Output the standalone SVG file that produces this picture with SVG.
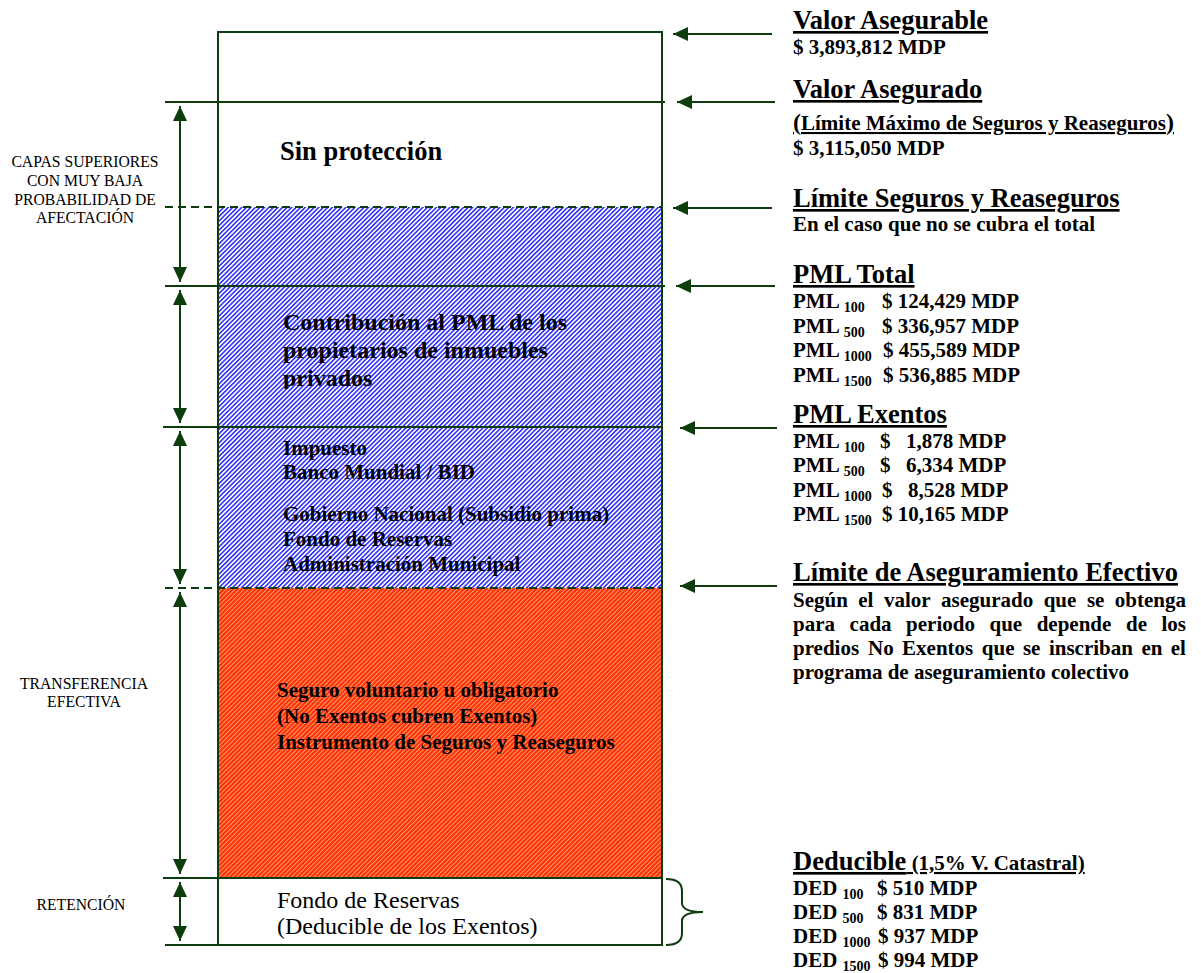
<svg xmlns="http://www.w3.org/2000/svg" width="1201" height="973" viewBox="0 0 1201 973">
<style>
.ln{stroke:#0d3d0d;stroke-width:2;fill:none}
.dash{stroke-dasharray:8 5}
.t{font-family:"Liberation Serif","Times New Roman",serif;fill:#000}
.b{font-weight:bold}
.title{font-size:26.5px;font-weight:bold;text-decoration:underline;text-decoration-thickness:2.5px}
.ul{text-decoration:underline;text-decoration-thickness:2px}
.sub{font-size:21px;font-weight:bold}
.ss{font-size:14px;font-weight:bold}
.lbl{font-size:15.7px;text-anchor:middle}
.arr{stroke:#0d3d0d;stroke-width:2;fill:none;marker-end:url(#ah)}
.darr{stroke:#0d3d0d;stroke-width:2;fill:none;marker-start:url(#ah);marker-end:url(#ah)}
</style>
<defs>
<pattern id="hb" width="3.2" height="3.2" patternUnits="userSpaceOnUse" patternTransform="rotate(45)">
<rect width="3.2" height="3.2" fill="#ffffff"/><rect width="1.6" height="3.2" fill="#3535ff"/>
</pattern>
<pattern id="hr" width="3.2" height="3.2" patternUnits="userSpaceOnUse" patternTransform="rotate(45)">
<rect width="3.2" height="3.2" fill="#ff3300"/><rect width="0.9" height="3.2" fill="#ffa488"/>
</pattern>
<marker id="ah" viewBox="0 0 15 14" refX="15" refY="7" markerWidth="15" markerHeight="14" markerUnits="userSpaceOnUse" orient="auto-start-reverse">
<path d="M0,0 L15,7 L0,14 z" fill="#0d3d0d"/>
</marker>
<clipPath id="clipContrib"><rect x="218" y="286" width="444" height="103"/></clipPath>
</defs>
<rect width="1201" height="973" fill="#ffffff"/>

<g id="layer-sin-proteccion">
<rect x="218" y="32" width="444" height="175" fill="#ffffff"/>
<text class="t b" x="280" y="160" font-size="26.5">Sin protección</text>
</g>

<g id="layer-limite-seguros">
<rect x="218" y="207" width="444" height="79" fill="url(#hb)"/>
</g>

<g id="layer-contribucion">
<rect x="218" y="286" width="444" height="141" fill="url(#hb)"/>
<g clip-path="url(#clipContrib)">
<text class="t b" font-size="24" x="283"><tspan x="283" y="330">Contribución al PML de los</tspan><tspan x="283" y="358">propietarios de inmuebles</tspan><tspan x="283" y="386">privados</tspan></text>
</g>
</g>

<g id="layer-exentos">
<rect x="218" y="427" width="444" height="161" fill="url(#hb)"/>
<text class="t b" font-size="21"><tspan x="283" y="455">Impuesto</tspan><tspan x="283" y="479">Banco Mundial / BID</tspan><tspan x="283" y="521">Gobierno Nacional (Subsidio prima)</tspan><tspan x="283" y="546">Fondo de Reservas</tspan><tspan x="283" y="571">Administración Municipal</tspan></text>
</g>

<g id="layer-transferencia">
<rect x="218" y="588" width="444" height="290" fill="url(#hr)"/>
<text class="t b" font-size="21"><tspan x="277" y="697">Seguro voluntario u obligatorio</tspan><tspan x="277" y="723">(No Exentos cubren Exentos)</tspan><tspan x="277" y="749">Instrumento de Seguros y Reaseguros</tspan></text>
</g>

<g id="layer-retencion">
<rect x="218" y="878" width="444" height="67" fill="#ffffff"/>
<text class="t" font-size="24"><tspan x="277" y="908">Fondo de Reservas</tspan><tspan x="277" y="934">(Deducible de los Exentos)</tspan></text>
</g>

<g id="frame">
<rect x="218" y="32" width="444" height="913" class="ln"/>
<line x1="165" y1="102" x2="665" y2="102" class="ln"/>
<line x1="165" y1="207" x2="662" y2="207" class="ln dash"/>
<line x1="165" y1="286" x2="665" y2="286" class="ln"/>
<line x1="163" y1="427" x2="662" y2="427" class="ln"/>
<line x1="165" y1="588" x2="662" y2="588" class="ln dash"/>
<line x1="163" y1="878" x2="662" y2="878" class="ln"/>
<line x1="165" y1="945" x2="218" y2="945" class="ln"/>
<path d="M666,879 Q682,879 682,891 L682,903 Q682,912 703,912 Q682,912 682,921 L682,933 Q682,945 666,945" class="ln" stroke-width="1.8"/>
</g>

<g id="connectors">
<line x1="772" y1="34" x2="673" y2="34" class="arr"/>
<line x1="775" y1="102" x2="677" y2="102" class="arr"/>
<line x1="772" y1="208" x2="673" y2="208" class="arr"/>
<line x1="775" y1="286" x2="676" y2="286" class="arr"/>
<line x1="777" y1="428" x2="680" y2="428" class="arr"/>
<line x1="777" y1="586" x2="680" y2="586" class="arr"/>
<line x1="180" y1="106" x2="180" y2="282" class="darr"/>
<line x1="180" y1="290" x2="180" y2="423" class="darr"/>
<line x1="180" y1="431" x2="180" y2="584" class="darr"/>
<line x1="180" y1="592" x2="180" y2="874" class="darr"/>
<line x1="180" y1="882" x2="180" y2="941" class="darr"/>
</g>

<g id="side-labels">
<text class="t lbl"><tspan x="85" y="167">CAPAS SUPERIORES</tspan><tspan x="85" y="186">CON MUY BAJA</tspan><tspan x="85" y="205">PROBABILIDAD DE</tspan><tspan x="85" y="223">AFECTACIÓN</tspan></text>
<text class="t lbl"><tspan x="84" y="689">TRANSFERENCIA</tspan><tspan x="84" y="707">EFECTIVA</tspan></text>
<text class="t lbl" x="81" y="910">RETENCIÓN</text>
</g>

<g id="info-valor-asegurable">
<text class="t title" x="793" y="29">Valor Asegurable</text>
<text class="t sub" x="793" y="54">$ 3,893,812 MDP</text>
</g>

<g id="info-valor-asegurado">
<text class="t title" x="793" y="98">Valor Asegurado</text>
<text class="t sub ul" x="793" y="130"><tspan font-size="24">(</tspan>Límite Máximo de Seguros y Reaseguros<tspan font-size="24">)</tspan></text>
<text class="t sub" x="793" y="155">$ 3,115,050 MDP</text>
</g>

<g id="info-limite-seguros">
<text class="t title" x="793" y="207">Límite Seguros y Reaseguros</text>
<text class="t sub" x="793" y="231">En el caso que no se cubra el total</text>
</g>

<g id="info-pml-total">
<text class="t title" x="793" y="283">PML Total</text>
<text class="t sub" x="793" y="308">PML <tspan class="ss" dy="4">100</tspan></text><text class="t sub" x="882" y="308">$ 124,429 MDP</text>
<text class="t sub" x="793" y="333">PML <tspan class="ss" dy="4">500</tspan></text><text class="t sub" x="882" y="333">$ 336,957 MDP</text>
<text class="t sub" x="793" y="357">PML <tspan class="ss" dy="4">1000</tspan></text><text class="t sub" x="883" y="357">$ 455,589 MDP</text>
<text class="t sub" x="793" y="382">PML <tspan class="ss" dy="4">1500</tspan></text><text class="t sub" x="883" y="382">$ 536,885 MDP</text>
</g>

<g id="info-pml-exentos">
<text class="t title" x="793" y="423">PML Exentos</text>
<text class="t sub" x="793" y="448">PML <tspan class="ss" dy="4">100</tspan></text><text class="t sub" x="880" y="448">$</text><text class="t sub" x="906" y="448">1,878 MDP</text>
<text class="t sub" x="793" y="472">PML <tspan class="ss" dy="4">500</tspan></text><text class="t sub" x="880" y="472">$</text><text class="t sub" x="906" y="472">6,334 MDP</text>
<text class="t sub" x="793" y="497">PML <tspan class="ss" dy="4">1000</tspan></text><text class="t sub" x="882" y="497">$</text><text class="t sub" x="908" y="497">8,528 MDP</text>
<text class="t sub" x="793" y="521">PML <tspan class="ss" dy="4">1500</tspan></text><text class="t sub" x="882" y="521">$ 10,165 MDP</text>
</g>

<g id="info-limite-efectivo">
<text class="t title" x="793" y="581">Límite de Aseguramiento Efectivo</text>
<text class="t sub" y="607"><tspan x="793">Según</tspan><tspan x="858.3">el</tspan><tspan x="884">valor</tspan><tspan x="941.1">asegurado</tspan><tspan x="1043.7">que</tspan><tspan x="1086.9">se</tspan><tspan x="1114.8">obtenga</tspan></text>
<text class="t sub" y="631"><tspan x="793">para</tspan><tspan x="849.6">cada</tspan><tspan x="906.1">periodo</tspan><tspan x="989.5">que</tspan><tspan x="1036.7">depende</tspan><tspan x="1126">de</tspan><tspan x="1161.5">los</tspan></text>
<text class="t sub" y="655"><tspan x="793">predios</tspan><tspan x="868">No</tspan><tspan x="902.1">Exentos</tspan><tspan x="981.8">que</tspan><tspan x="1022.9">se</tspan><tspan x="1048.9">inscriban</tspan><tspan x="1141.4">en</tspan><tspan x="1170.8">el</tspan></text>
<text class="t sub" x="793" y="679">programa de aseguramiento colectivo</text>
</g>

<g id="info-deducible">
<text class="t title" x="793" y="870">Deducible<tspan font-size="21"> (1,5% V. Catastral)</tspan></text>
<text class="t sub" x="793" y="895">DED <tspan class="ss" dy="4">100</tspan></text><text class="t sub" x="877" y="895">$ 510 MDP</text>
<text class="t sub" x="793" y="919">DED <tspan class="ss" dy="4">500</tspan></text><text class="t sub" x="877" y="919">$ 831 MDP</text>
<text class="t sub" x="793" y="943">DED <tspan class="ss" dy="4">1000</tspan></text><text class="t sub" x="878" y="943">$ 937 MDP</text>
<text class="t sub" x="793" y="967">DED <tspan class="ss" dy="4">1500</tspan></text><text class="t sub" x="878" y="967">$ 994 MDP</text>
</g>
</svg>
